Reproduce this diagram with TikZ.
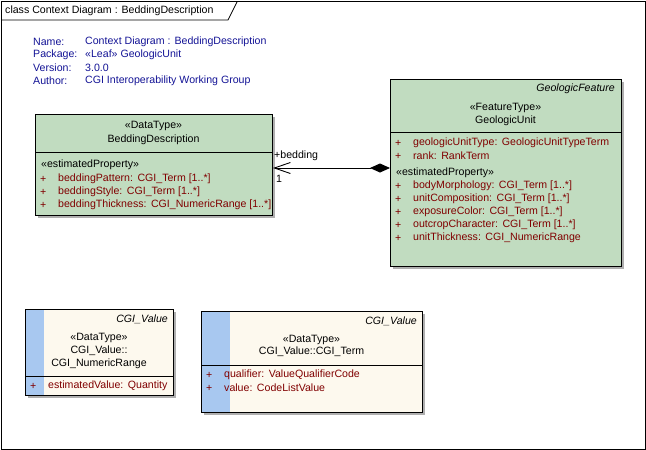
\documentclass[tikz,border=0pt]{standalone}
\usepackage{fontspec}
\setmainfont{Liberation Sans}
\usetikzlibrary{arrows.meta}
\definecolor{hdrblue}{RGB}{20,20,150}
\definecolor{attrred}{RGB}{128,0,0}
\definecolor{greenfill}{RGB}{193,220,192}
\definecolor{creamfill}{RGB}{253,249,238}
\definecolor{stripeblue}{RGB}{168,200,240}
\definecolor{shadowgray}{RGB}{175,175,175}
\newcommand{\fs}{\fontsize{10.6}{12}\selectfont}
\newcommand{\gap}{\hspace{4.5pt}}
\tikzset{
  txt/.style={anchor=west, inner sep=0pt, font=\fs},
  ctxt/.style={anchor=center, inner sep=0pt, font=\fs},
  hdr/.style={txt, text=hdrblue},
  attr/.style={txt, text=attrred},
  classbox/.style={draw=black, line width=1pt, anchor=north west, inner sep=0pt},
  boxshadow/.style={fill=shadowgray, draw=none},
}
\begin{document}
\begin{tikzpicture}[x=1pt,y=-1pt]
\useasboundingbox (0,0) rectangle (646,450);
% frame
\fill[white] (0,0) rectangle (646,450);
\draw[line width=0.8pt] (1,1) rectangle (645,449);
\draw[line width=0.8pt] (1,20) -- (228,20) -- (237,2);
\node[txt] (title) at (5,10.5) {class Context Diagram : BeddingDescription};
% header
\node[hdr] (h1a) at (33,42) {Name:};
\node[hdr] (h1b) at (85,42) {Context Diagram : BeddingDescription};
\node[hdr] (h2a) at (33,55) {Package:};
\node[hdr] (h2b) at (85,55) {«Leaf» GeologicUnit};
\node[hdr] (h3a) at (33,68) {Version:};
\node[hdr] (h3b) at (85,68) {3.0.0};
\node[hdr] (h4a) at (33,81) {Author:};
\node[hdr] (h4b) at (85,81) {CGI Interoperability Working Group};

% BeddingDescription
\fill[boxshadow] (38,117) rectangle (275,218);
\node[classbox, fill=greenfill, minimum width=237pt, minimum height=101pt] (bd) at (35,114) {};
\draw[line width=0.8pt] (35,152) -- (272,152);
\node[ctxt] (bds) at (153.5,126) {«DataType»};
\node[ctxt] (bdn) at (153.5,140) {BeddingDescription};
\node[txt] (bdep) at (41,165) {«estimatedProperty»};
\node[attr] (bdp1) at (40,179) {+};
\node[attr] (bda1) at (58,179) {beddingPattern:\gap CGI\_Term [1..*]};
\node[attr] (bdp2) at (40,192) {+};
\node[attr] (bda2) at (58,192) {beddingStyle:\gap CGI\_Term [1..*]};
\node[attr] (bdp3) at (40,205) {+};
\node[attr] (bda3) at (58,205) {beddingThickness:\gap CGI\_NumericRange [1..*]};

% GeologicUnit
\fill[boxshadow] (393,82) rectangle (624,269);
\node[classbox, fill=greenfill, minimum width=231pt, minimum height=187pt] (gu) at (390,79) {};
\draw[line width=0.8pt] (390,132) -- (621,132);
\node[txt, anchor=east, font=\fs\itshape] (gupar) at (615,89) {GeologicFeature};
\node[ctxt] (gus) at (505.5,108) {«FeatureType»};
\node[ctxt] (gun) at (505.5,121) {GeologicUnit};
\node[attr] (gup1) at (395,143) {+};
\node[attr] (gua1) at (413,143) {geologicUnitType:\gap GeologicUnitTypeTerm};
\node[attr] (gup2) at (395,156) {+};
\node[attr] (gua2) at (413,156) {rank:\gap RankTerm};
\node[txt] (guep) at (396,173) {«estimatedProperty»};
\node[attr] (gup3) at (395,186) {+};
\node[attr] (gua3) at (413,186) {bodyMorphology:\gap CGI\_Term [1..*]};
\node[attr] (gup4) at (395,199) {+};
\node[attr] (gua4) at (413,199) {unitComposition:\gap CGI\_Term [1..*]};
\node[attr] (gup5) at (395,212) {+};
\node[attr] (gua5) at (413,212) {exposureColor:\gap CGI\_Term [1..*]};
\node[attr] (gup6) at (395,225) {+};
\node[attr] (gua6) at (413,225) {outcropCharacter:\gap CGI\_Term [1..*]};
\node[attr] (gup7) at (395,238) {+};
\node[attr] (gua7) at (413,238) {unitThickness:\gap CGI\_NumericRange};

% association
\draw[line width=0.9pt, {Diamond[length=20pt,width=9pt,fill=black]}-{Straight Barb[length=16pt,width=11pt,line width=0.9pt]}]
  (gu.west |- 0,168) -- (bd.east |- 0,168);
\node[txt] (rolelbl) at (274,156) {+bedding};
\node[txt] (multlbl) at (276,179) {1};

% CGI_NumericRange
\fill[boxshadow] (28,312) rectangle (176,398);
\node[classbox, fill=creamfill, minimum width=148pt, minimum height=86pt] (nr) at (25,309) {};
\fill[stripeblue] (25.5,309.5) rectangle (44,394.5);
\draw[line width=1pt] (25,309) rectangle (173,395);
\draw[line width=0.8pt] (25,376) -- (173,376);
\node[txt, anchor=east, font=\fs\itshape] (nrpar) at (168,319) {CGI\_Value};
\node[ctxt] (nrs) at (99,338) {«DataType»};
\node[ctxt] (nrn1) at (99,351) {CGI\_Value::};
\node[ctxt] (nrn2) at (99,364) {CGI\_NumericRange};
\node[attr] (nrp1) at (30,386) {+};
\node[attr] (nra1) at (48,386) {estimatedValue:\gap Quantity};

% CGI_Term
\fill[boxshadow] (204,314) rectangle (425,415);
\node[classbox, fill=creamfill, minimum width=221pt, minimum height=101pt] (ct) at (201,311) {};
\fill[stripeblue] (201.5,311.5) rectangle (230,411.5);
\draw[line width=1pt] (201,311) rectangle (422,412);
\draw[line width=0.8pt] (201,365) -- (422,365);
\node[txt, anchor=east, font=\fs\itshape] (ctpar) at (417,321) {CGI\_Value};
\node[ctxt] (cts) at (311.5,340) {«DataType»};
\node[ctxt] (ctn) at (311.5,352) {CGI\_Value::CGI\_Term};
\node[attr] (ctp1) at (206,375) {+};
\node[attr] (cta1) at (224,375) {qualifier:\gap ValueQualifierCode};
\node[attr] (ctp2) at (206,388) {+};
\node[attr] (cta2) at (224,388) {value:\gap CodeListValue};
\end{tikzpicture}
\end{document}
